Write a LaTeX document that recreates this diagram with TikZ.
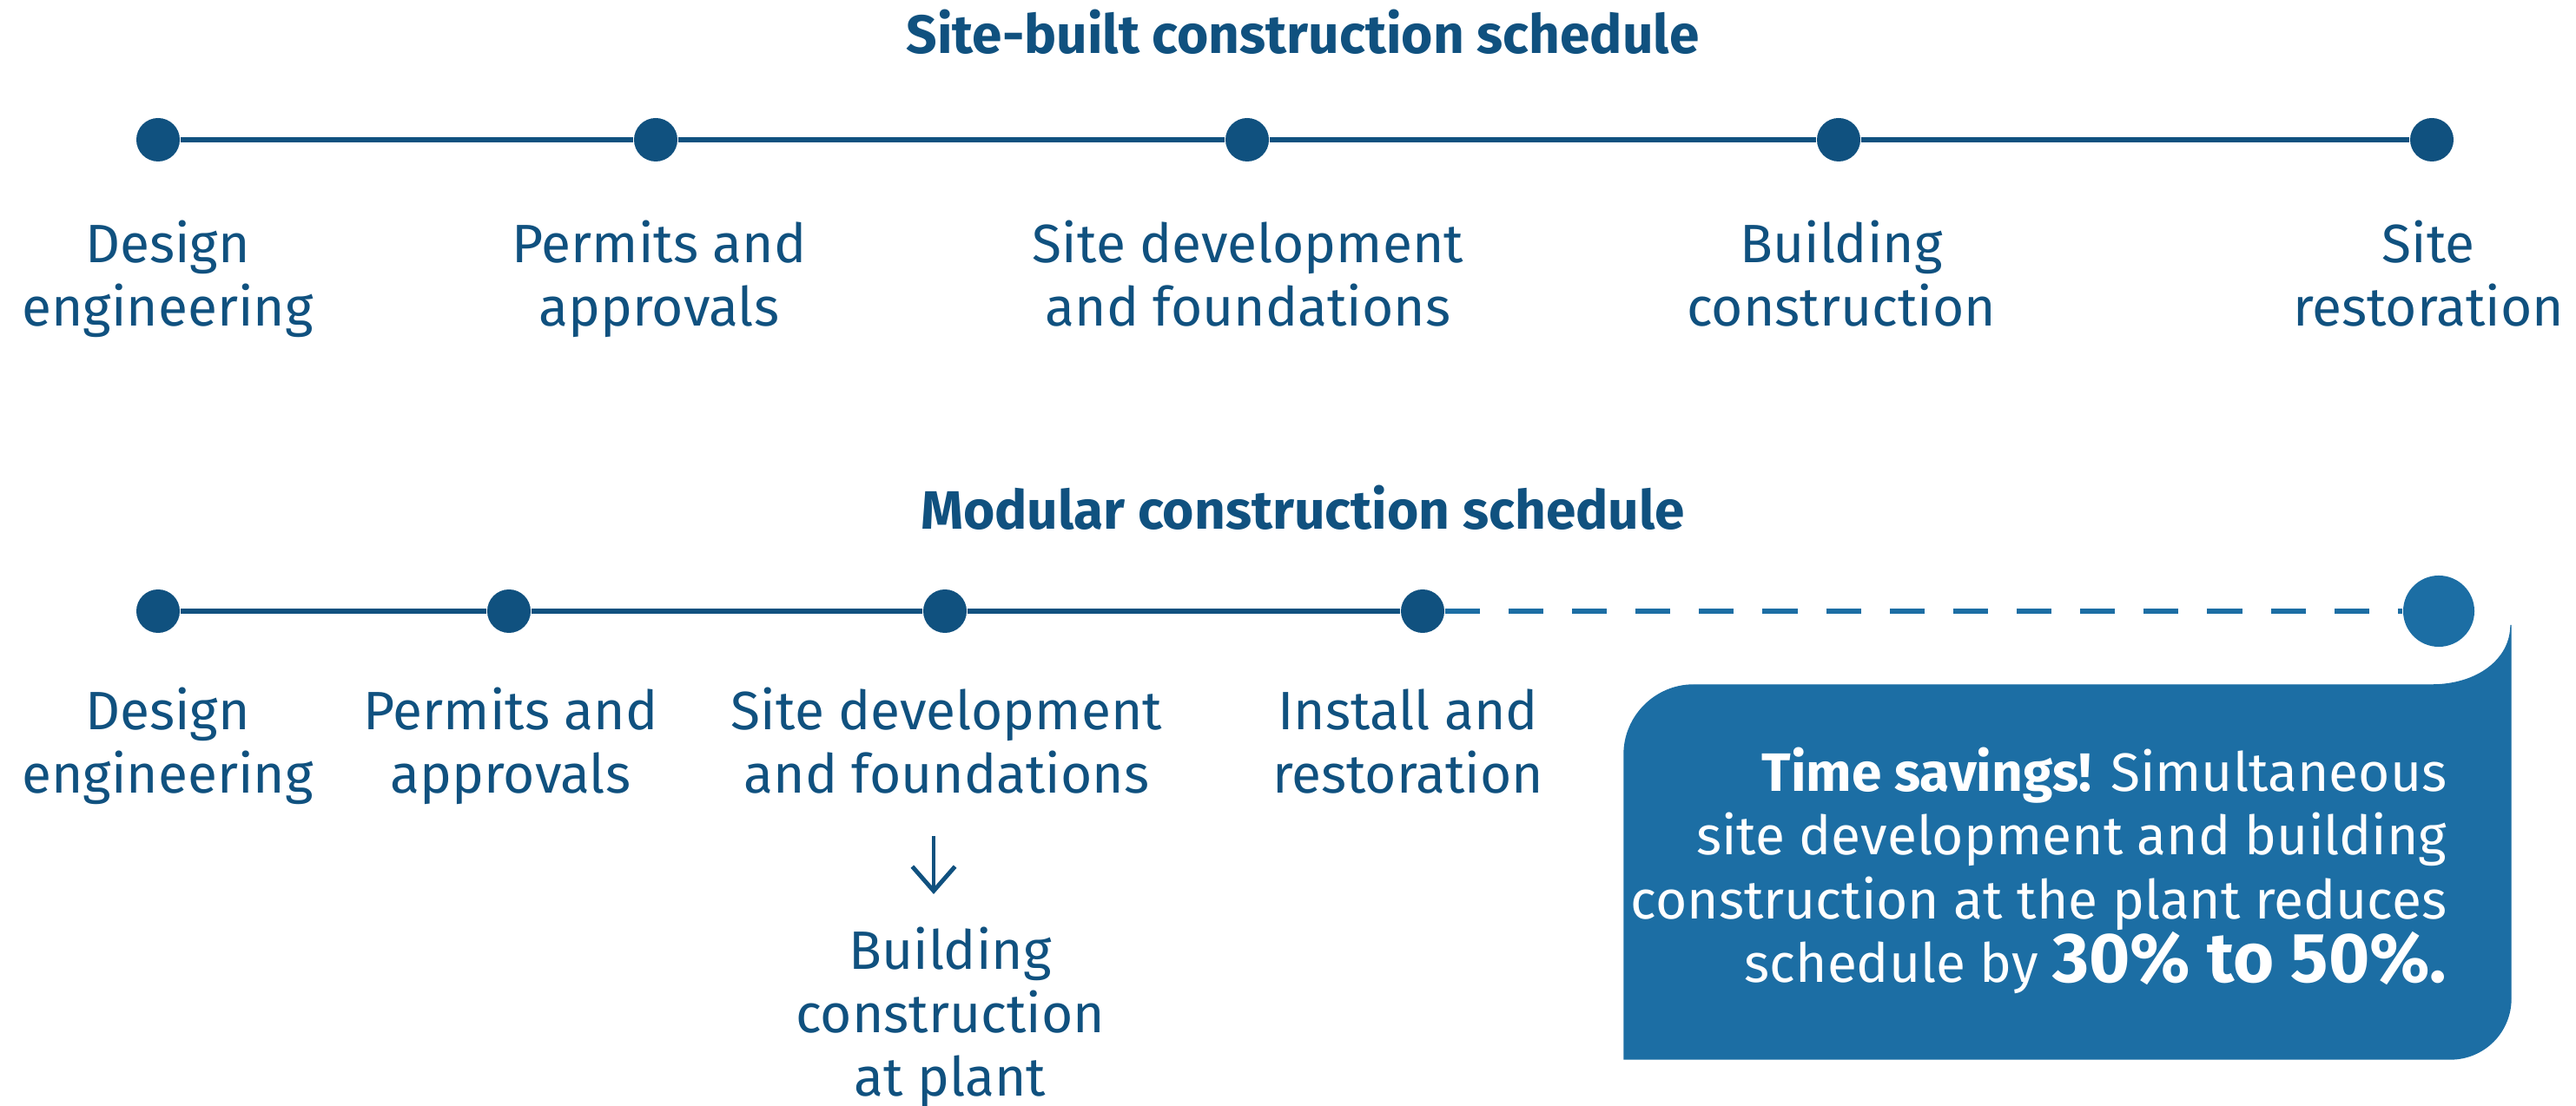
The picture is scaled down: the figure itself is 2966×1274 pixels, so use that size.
\documentclass[tikz,border=0pt]{standalone}
\usepackage{fontspec}
\setmainfont{Fira Sans}
\usepackage{tikz}
\usetikzlibrary{arrows.meta}
\definecolor{navy}{HTML}{10517F}
\definecolor{callout}{HTML}{1C6EA4}

\begin{document}
\begin{tikzpicture}[x=0.01cm, y=-0.01cm,
										dot/.style={circle, fill=navy, inner sep=0pt, minimum size=0.5cm},
										bigdot/.style={circle, fill=callout, inner sep=0pt, minimum size=0.82cm},
										lbl/.style={anchor=base, align=center, inner sep=0pt, text=navy,
																font=\fontsize{17.7}{20.9}\selectfont},
										ttl/.style={anchor=base, inner sep=0pt, text=navy,
																font=\fontsize{17.7}{20.9}\selectfont\bfseries},
										tl/.style={draw=navy, line width=1.7pt}]
	\useasboundingbox (0,0) rectangle (2966,1274);

	\node [ttl] (stitle) at (1500,62) {Site-built construction schedule};
	\node [dot] (s1) at (182,161) {};
	\node [dot] (s2) at (755,161) {};
	\node [dot] (s3) at (1436,161) {};
	\node [dot] (s4) at (2117,161) {};
	\node [dot] (s5) at (2800,161) {};
	\draw [tl] (s1) -- (s2) -- (s3) -- (s4) -- (s5);
	\node [lbl] (s1t) at (193,376) {Design\\engineering};
	\node [lbl] (s2t) at (759,376) {Permits and\\approvals};
	\node [lbl] (s3t) at (1437,376) {Site development\\and foundations};
	\node [lbl] (s4t) at (2120,376) {Building\\construction};
	\node [lbl] (s5t) at (2796,376) {Site\\restoration};

	\node [ttl] (mtitle) at (1500,610) {Modular construction schedule};
	\node [dot] (m1) at (182,704) {};
	\node [dot] (m2) at (586,704) {};
	\node [dot] (m3) at (1088,704) {};
	\node [dot] (m4) at (1638,704) {};
	\draw [tl] (m1) -- (m2) -- (m3) -- (m4);

	\draw [callout, fill=callout] (1870,1220) -- (1870,869)
		.. controls (1870,825) and (1906,789) .. (1950,789) -- (2800,789)
		.. controls (2852,789) and (2891,760) .. (2891,720) -- (2891,1150)
		.. controls (2891,1189) and (2860,1220) .. (2821,1220) -- cycle;
	\node [bigdot] (m5) at (2808,704) {};
	\draw [draw=callout, line width=1.7pt, dash pattern=on 11.4pt off 9.4pt] (m4) -- (m5);

	\node [lbl] (m1t) at (193,914) {Design\\engineering};
	\node [lbl] (m2t) at (588,914) {Permits and\\approvals};
	\node [lbl] (m3t) at (1090,914) {Site development\\and foundations};
	\node [lbl] (m4t) at (1621,914) {Install and\\restoration};
	\node [lbl] (plant) at (1094,1263) {Building\\construction\\at plant};
	\coordinate (arrtop) at (1075,963);
	\coordinate (arrtip) at (1075,1030);
	\draw [navy, line width=1.4pt, -{Straight Barb[length=8pt, width=14pt]}] (arrtop) -- (arrtip);

	\node [lbl, align=right, anchor=base east, text=white] (saving) at (2818,1132)
		{\textbf{Time savings!} Simultaneous\\site development and building\\construction at the plant reduces\\
		schedule by {\fontsize{23}{20.9}\selectfont\bfseries 30\% to 50\%.}};
\end{tikzpicture}
\end{document}
